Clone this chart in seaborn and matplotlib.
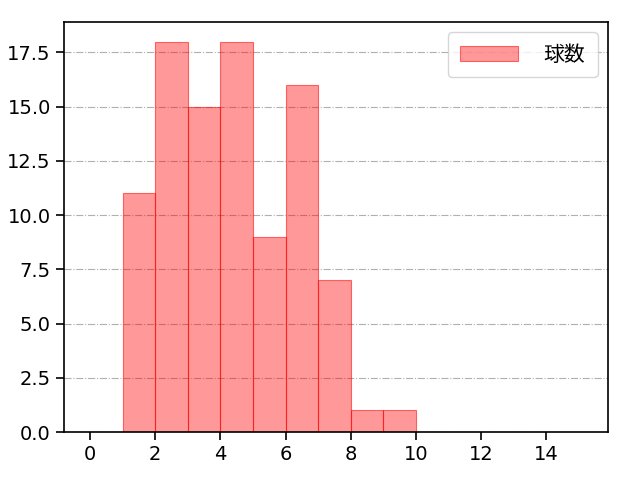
import numpy as np
import pandas as pd
import seaborn as sns
import matplotlib
matplotlib.use("Agg")
import matplotlib.pyplot as plt

# pitch-count bins (width 1) and how many games fell into each
bin_left = [1, 2, 3, 4, 5, 6, 7, 8, 9]
counts = [11, 18, 15, 18, 9, 16, 7, 1, 1]
xticks = [0, 2, 4, 6, 8, 10, 12, 14]

sns.set_style("ticks")
plt.rcParams['font.family'] = ['DejaVu Sans', 'Noto Sans CJK JP']

df = pd.DataFrame({'球数': np.array(bin_left) + 0.5, 'n': counts})

fig = plt.figure(figsize=(6.4, 4.8), dpi=100)
ax = fig.add_axes([0.1, 0.1, 0.85, 0.854])
ax.grid(axis='y', linestyle='-.', color='#b0b0b0', linewidth=0.8)
ax.set_axisbelow(True)
sns.histplot(data=df, x='球数', weights='n', binwidth=1, binrange=(1, 10), ax=ax,
             color='red', alpha=0.4, edgecolor=(1, 0, 0, 0.55), linewidth=0.8,
             label='球数', stat='count')
ax.set_xlim(-0.8, 15.9)
ax.set_ylim(0, 18.9)
ax.set_xticks(xticks)
ax.set_xlabel('')
ax.set_ylabel('')
ax.tick_params(labelsize=14, length=6, width=1.2, color='black', labelcolor='black')
for s in ax.spines.values():
    s.set_linewidth(1.2)
    s.set_color('black')
leg = ax.legend(loc='upper right', fontsize=15, handlelength=2.8, borderpad=0.6,
                handletextpad=1.2)
for t in leg.get_texts():
    t.set_color('black')
fig.savefig('out.png', dpi=100)
